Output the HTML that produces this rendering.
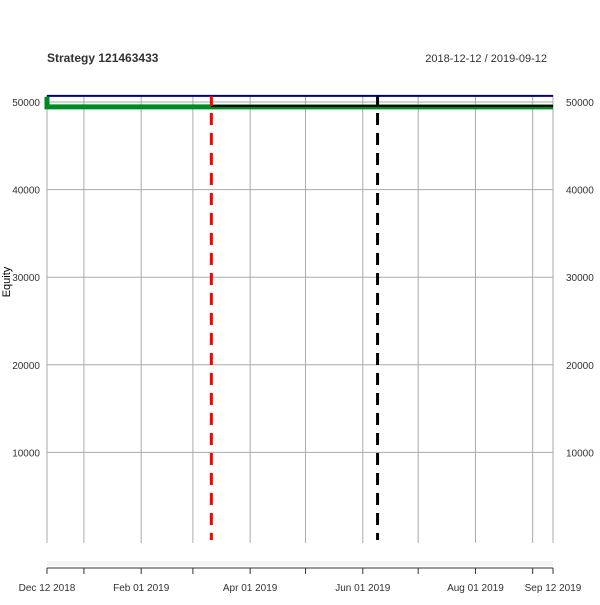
<!DOCTYPE html>
<html><head><meta charset="utf-8"><style>
html,body{margin:0;padding:0;background:#fff;}
svg text{font-family:"Liberation Sans",Arial,sans-serif;}
</style></head><body>
<svg id="c" width="600" height="600" xmlns="http://www.w3.org/2000/svg">
<text x="47" y="62" font-size="12" font-weight="bold" fill="#333">Strategy 121463433</text>
<text x="547" y="62" font-size="11" text-anchor="end" fill="#333">2018-12-12 / 2019-09-12</text>
<text x="10" y="282" font-size="11" fill="#000" text-anchor="middle" transform="rotate(-90 10 282)">Equity</text>
<g id="grid"></g><g id="marks"></g><g id="axes"></g>
</svg>
<script>
const yTicks=[10000,20000,30000,40000,50000];
const xTickDates=["2018-12-12","2019-01-01","2019-02-01","2019-03-01","2019-04-01","2019-05-01","2019-06-01","2019-07-01","2019-08-01","2019-09-01","2019-09-12"];
const xLabels=[["2018-12-12","Dec 12 2018"],["2019-02-01","Feb 01 2019"],["2019-04-01","Apr 01 2019"],["2019-06-01","Jun 01 2019"],["2019-08-01","Aug 01 2019"],["2019-09-12","Sep 12 2019"]];
const startDate="2018-12-12", endDate="2019-09-12";
const highWater=50700;
const equityDates=["2018-12-12","2018-12-12","2019-09-12"];
const equityValues=[50600,49450,49450];
const blackDates=["2019-03-11","2019-09-12"];
const blackValues=[49550,49550];
const redEvent={date:"2019-03-11",top:50700,bottom:49550};
const blackEvent={date:"2019-06-09",top:50700,bottom:49550};

const NS="http://www.w3.org/2000/svg";
const d=s=>Date.parse(s+"T00:00:00Z");
const X0=47,X1=553,Y0=540,PPU=87.6/10000;
const x=s=>X0+(d(s)-d(startDate))/(d(endDate)-d(startDate))*(X1-X0);
const y=v=>Y0-v*PPU;
function el(t,a,p){const e=document.createElementNS(NS,t);for(const k in a)e.setAttribute(k,a[k]);document.getElementById(p).appendChild(e);return e;}
yTicks.forEach(v=>{
 const l=el('line',{x1:X0,x2:X1,y1:y(v),y2:y(v),stroke:'#aaa','stroke-width':1},'grid');
 
 
 const t1=el('text',{x:40,y:y(v)+4,'font-size':10,'text-anchor':'end',fill:'#333'},'axes');t1.textContent=v;
 
 
 const t2=el('text',{x:566,y:y(v)+4,'font-size':10,fill:'#333'},'axes');t2.textContent=v;
 
 
});
xTickDates.forEach(s=>{
 const l=el('line',{x1:x(s),x2:x(s),y1:95,y2:543,stroke:'#aaa','stroke-width':1},'grid');
 
 
 const t=el('line',{x1:x(s),x2:x(s),y1:568,y2:574,stroke:'#333','stroke-width':1},'axes');
 
 
});
const band=el('rect',{x:X0,y:561,width:X1-X0,height:5,fill:'#f4f4f4'},'axes');


const ax=el('line',{x1:X0,x2:X1,y1:568,y2:568,stroke:'#333','stroke-width':1},'axes');


xLabels.forEach(([s,lab])=>{
 const t=el('text',{x:x(s),y:591,'font-size':10,'text-anchor':'middle',fill:'#333'},'axes');t.textContent=lab;
 
 
});
const hw=el('line',{x1:X0,x2:X1,y1:y(highWater),y2:y(highWater),stroke:'#00008b','stroke-width':2},'marks');


const gp=el('polyline',{points:equityDates.map((s,i)=>x(s)+','+y(equityValues[i])).join(' '),fill:'none',stroke:'#008b22','stroke-width':5},'marks');


const bp=el('polyline',{points:blackDates.map((s,i)=>x(s)+','+y(blackValues[i])).join(' '),fill:'none',stroke:'#000','stroke-width':2},'marks');


[[redEvent,'#f00','red-event'],[blackEvent,'#000','black-event']].forEach(([ev,c,n])=>{
 const a=el('line',{x1:x(ev.date),x2:x(ev.date),y1:y(ev.top),y2:y(ev.bottom),stroke:c,'stroke-width':3},'marks');
 
 
 const b=el('line',{x1:x(ev.date),x2:x(ev.date),y1:113,y2:Y0,stroke:c,'stroke-width':3,'stroke-dasharray':'12,8'},'marks');
 
 
});
</script>
</body></html>
